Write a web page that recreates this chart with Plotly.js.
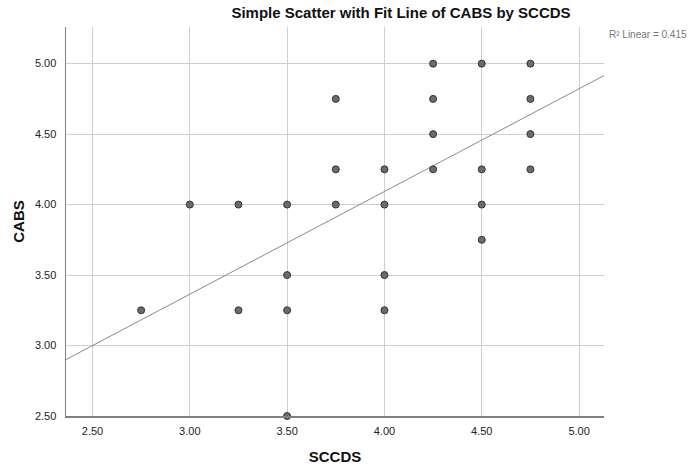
<!DOCTYPE html>
<html>
<head>
<meta charset="utf-8">
<script src="https://cdn.plot.ly/plotly-3.0.1.min.js"></script>
<style>html,body{margin:0;padding:0;background:#fff;}#chart{width:688px;height:466px;}</style>
</head>
<body>
<div id="chart"></div>
<script>
// Data
const sccds = [2.75, 3.00, 3.25, 3.25, 3.50, 3.50, 3.50, 3.50,
               3.75, 3.75, 3.75, 4.00, 4.00, 4.00, 4.00,
               4.25, 4.25, 4.25, 4.25, 4.50, 4.50, 4.50, 4.50,
               4.75, 4.75, 4.75, 4.75];
const cabs  = [3.25, 4.00, 4.00, 3.25, 4.00, 3.50, 3.25, 2.50,
               4.75, 4.25, 4.00, 4.25, 4.00, 3.50, 3.25,
               5.00, 4.75, 4.50, 4.25, 5.00, 4.25, 4.00, 3.75,
               5.00, 4.75, 4.50, 4.25];
// Fit line
const fitIntercept = 1.177;
const fitSlope = 0.729;
const r2Text = "R² Linear = 0.415";
const xTicks = [2.5, 3.0, 3.5, 4.0, 4.5, 5.0];
const yTicks = [2.5, 3.0, 3.5, 4.0, 4.5, 5.0];

const xRange = [2.364, 5.128];
const yRange = [2.5, 5.26];

const fitX = xRange.slice();
const fitY = fitX.map(x => fitIntercept + fitSlope * x);

const traces = [
  {
    x: fitX, y: fitY, type: 'scatter', mode: 'lines',
    line: {color: '#8a8a8a', width: 1}, hoverinfo: 'skip', cliponaxis: true
  },
  {
    x: sccds, y: cabs, type: 'scatter', mode: 'markers',
    marker: {size: 7, color: '#6b6b6b', line: {color: '#333333', width: 1}},
    cliponaxis: false
  }
];

const tickFmt = v => v.toFixed(2);

const layout = {
  width: 688, height: 466,
  margin: {l: 66, r: 84, t: 27, b: 50, pad: 0},
  paper_bgcolor: '#ffffff', plot_bgcolor: '#ffffff',
  showlegend: false,
  font: {family: 'Liberation Sans, Arial, sans-serif', color: '#222'},
  title: {
    text: '<b>Simple Scatter with Fit Line of CABS by SCCDS</b>',
    font: {size: 15, color: '#111'},
    x: 401 / 688, xanchor: 'center', y: 1 - 13 / 466, yanchor: 'middle'
  },
  xaxis: {
    range: xRange, tickvals: xTicks, ticktext: xTicks.map(tickFmt),
    showgrid: true, gridcolor: '#cfcfcf', gridwidth: 1,
    zeroline: false, showline: true, linecolor: '#808080', linewidth: 1.5,
    ticks: '', ticklabelstandoff: 4,
    tickfont: {size: 11, color: '#222'},
    title: {text: '<b>SCCDS</b>', font: {size: 15, color: '#111'}, standoff: 16}
  },
  yaxis: {
    range: yRange, tickvals: yTicks, ticktext: yTicks.map(tickFmt),
    showgrid: true, gridcolor: '#cfcfcf', gridwidth: 1,
    zeroline: false, showline: true, linecolor: '#808080', linewidth: 1.5,
    ticks: '', ticklabelstandoff: 6,
    tickfont: {size: 11, color: '#222'},
    title: {text: '<b>CABS</b>', font: {size: 15, color: '#111'}, standoff: 6}
  },
  annotations: [{
    text: r2Text, xref: 'paper', yref: 'paper',
    x: 1, y: 1 - 8 / 389, xanchor: 'left', yanchor: 'middle', xshift: 3,
    showarrow: false, font: {size: 10, color: '#777'}
  }]
};

Plotly.newPlot('chart', traces, layout, {displayModeBar: false, staticPlot: true});
</script>
</body>
</html>
